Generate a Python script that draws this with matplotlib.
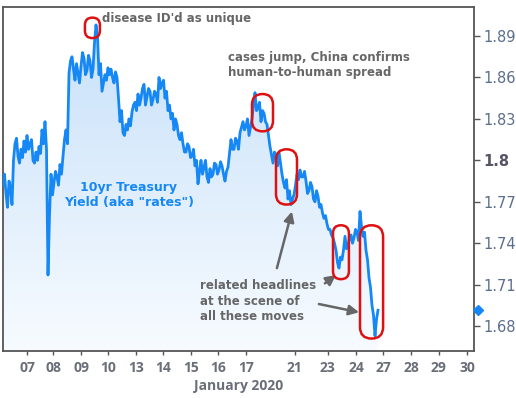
import numpy as np
import matplotlib
matplotlib.use("Agg")
import matplotlib.pyplot as plt
from matplotlib.patches import FancyBboxPatch
from matplotlib.transforms import IdentityTransform

# 10yr yield at even steps of trading time
yields = [
    1.782, 1.790, 1.776, 1.766, 1.785, 1.780, 1.768, 1.800, 1.812, 1.816,
    1.803, 1.798, 1.808, 1.802, 1.814, 1.806, 1.818, 1.808, 1.812, 1.815,
    1.800, 1.798, 1.806, 1.800, 1.810, 1.805, 1.822, 1.812, 1.828, 1.808,
    1.717, 1.760, 1.790, 1.775, 1.784, 1.792, 1.788, 1.782, 1.797, 1.790,
    1.803, 1.815, 1.822, 1.812, 1.863, 1.872, 1.875, 1.866, 1.858, 1.870,
    1.863, 1.856, 1.868, 1.878, 1.874, 1.862, 1.865, 1.876, 1.872, 1.860,
    1.866, 1.885, 1.898, 1.890, 1.862, 1.870, 1.850, 1.856, 1.862, 1.858,
    1.867, 1.862, 1.866, 1.860, 1.856, 1.864, 1.860, 1.845, 1.828, 1.836,
    1.820, 1.818, 1.826, 1.822, 1.830, 1.825, 1.835, 1.840, 1.842, 1.836,
    1.848, 1.840, 1.845, 1.852, 1.855, 1.840, 1.846, 1.852, 1.850, 1.840,
    1.844, 1.850, 1.848, 1.842, 1.860, 1.852, 1.856, 1.858, 1.845, 1.850,
    1.836, 1.840, 1.830, 1.834, 1.822, 1.830, 1.826, 1.818, 1.815, 1.820,
    1.812, 1.806, 1.806, 1.812, 1.810, 1.802, 1.803, 1.808, 1.796, 1.800,
    1.783, 1.792, 1.800, 1.790, 1.795, 1.800, 1.788, 1.784, 1.794, 1.788,
    1.790, 1.798, 1.797, 1.790, 1.793, 1.799, 1.796, 1.790, 1.785, 1.792,
    1.795, 1.805, 1.815, 1.808, 1.808, 1.816, 1.814, 1.808, 1.820, 1.824,
    1.828, 1.822, 1.825, 1.830, 1.818, 1.824, 1.830, 1.840, 1.849, 1.836,
    1.838, 1.842, 1.828, 1.836, 1.834, 1.828, 1.826, 1.818, 1.810, 1.804,
    1.798, 1.806, 1.803, 1.796, 1.806, 1.798, 1.790, 1.784, 1.780, 1.786,
    1.772, 1.778, 1.768, 1.772, 1.775, 1.782, 1.790, 1.786, 1.793, 1.788,
    1.788, 1.792, 1.785, 1.776, 1.778, 1.784, 1.781, 1.772, 1.770, 1.778,
    1.774, 1.766, 1.768, 1.762, 1.758, 1.760, 1.754, 1.750, 1.750, 1.746,
    1.744, 1.740, 1.735, 1.726, 1.722, 1.730, 1.728, 1.735, 1.745, 1.736,
    1.738, 1.744, 1.746, 1.740, 1.744, 1.750, 1.748, 1.742, 1.763, 1.752,
    1.745, 1.748, 1.735, 1.728, 1.715, 1.708, 1.695, 1.688, 1.673, 1.685,
    1.6915,
]
last_value = 1.6915

day_labels = ["07", "08", "09", "10", "13", "14", "15", "16", "17",
              "21", "23", "24", "27", "28", "29", "30"]
day_pos = [8, 16.7, 26, 35, 44.3, 53.3, 62.7, 71.7, 81,
           97.3, 108.3, 117.7, 126.7, 136, 145.3, 154.7]
ytick_vals = [1.68, 1.71, 1.74, 1.77, 1.80, 1.83, 1.86, 1.89]

# highlighted moves: (x0, x1, y_low, y_high)
boxes = [
    (27.3, 32.3, 1.8885, 1.9033),
    (83.0, 90.0, 1.821, 1.848),
    (91.0, 98.0, 1.768, 1.808),
    (110.0, 115.3, 1.714, 1.753),
    (119.0, 126.7, 1.671, 1.753),
]
arrows = [
    ((91.3, 1.722), (96.3, 1.763)),
    ((107.3, 1.711), (111.0, 1.717)),
    ((105.3, 1.696), (118.7, 1.690)),
]

line_c = "#1688f6"
gray = "#666666"
y = np.array(yields)
x = np.arange(len(y)) * 0.5

fig = plt.figure(figsize=(5.16, 3.98), dpi=100)
ax = fig.add_axes([3/516, 47/398, 471/516, 344/398])

# gradient fill under the line
poly = ax.fill_between(x, y, 1.662, facecolor="none", edgecolor="none")
grad = np.linspace(0, 1, 256).reshape(-1, 1)
top_c = np.array([0.78, 0.88, 0.98])
bot_c = np.array([0.97, 0.985, 1.0])
img = top_c + (bot_c - top_c) * grad
im = ax.imshow(img[:, None, :].repeat(2, axis=1), extent=[0, 157, 1.662, 1.902],
               aspect="auto", origin="upper", zorder=1)
im.set_clip_path(poly.get_paths()[0], transform=ax.transData)
ax.plot(x, y, color=line_c, lw=2, zorder=3)
ax.set_xlim(0, 157)
ax.set_ylim(1.662, 1.911)

# last value marker on the axis
ax.plot([1.009], [last_value], marker="D", ms=5, color=line_c,
        transform=ax.get_yaxis_transform(), clip_on=False, zorder=5)

for s in ax.spines.values():
    s.set_color("#555555")
    s.set_linewidth(1.3)

ax.yaxis.tick_right()
ax.set_yticks(ytick_vals)
ax.set_yticklabels(["1.68", "1.71", "1.74", "1.77", "1.8", "1.83", "1.86", "1.89"])
ax.tick_params(axis="y", length=4, width=1, color="#555555", pad=3,
               labelsize=10.5, labelcolor="#5b6e8c")
for t in ax.get_yticklabels():
    if t.get_text() == "1.8":
        t.set_fontweight("bold")
        t.set_color("#555566")

ax.set_xticks(day_pos)
ax.set_xticklabels(day_labels, family="Open Sans", fontweight="bold")
ax.tick_params(axis="x", length=3, width=1, color="#555555", pad=4,
               labelsize=10, labelcolor="#6a6e78")
ax.set_xlabel("January 2020", family="Open Sans", fontweight="bold",
              fontsize=10, color="#6a6e78", labelpad=3)

txt = dict(fontsize=8.5, fontweight="bold", color=gray, family="DejaVu Sans")
ax.text(33, 1.903, "disease ID'd as unique", va="center", ha="left", **txt)
ax.text(75, 1.869, "cases jump, China confirms\nhuman-to-human spread",
        va="center", ha="left", linespacing=1.25, **txt)
ax.text(65.7, 1.698, "related headlines\nat the scene of\nall these moves",
        va="center", ha="left", linespacing=1.25, **txt)
ax.text(42, 1.775, "10yr Treasury\nYield (aka \"rates\")", va="center", ha="center",
        fontsize=9, fontweight="bold", color=line_c, linespacing=1.2, zorder=4)

for tail, head in arrows:
    ax.annotate("", xy=head, xytext=tail,
                arrowprops=dict(arrowstyle="-|>,head_length=0.6,head_width=0.3",
                                color=gray, lw=1.8, shrinkA=0, shrinkB=0), zorder=4)

fig.canvas.draw()
for x0, x1, ylo, yhi in boxes:
    (px0, py0), (px1, py1) = ax.transData.transform([(x0, ylo), (x1, yhi)])
    w, h = px1 - px0, py1 - py0
    r = min(w, h) / 2
    p = FancyBboxPatch((px0, py0), w, h,
                       boxstyle=f"round,pad=0,rounding_size={r}",
                       transform=IdentityTransform(), fill=False,
                       edgecolor="#dd1111", lw=1.8, zorder=6)
    fig.add_artist(p)

fig.savefig("out.png", dpi=100)
